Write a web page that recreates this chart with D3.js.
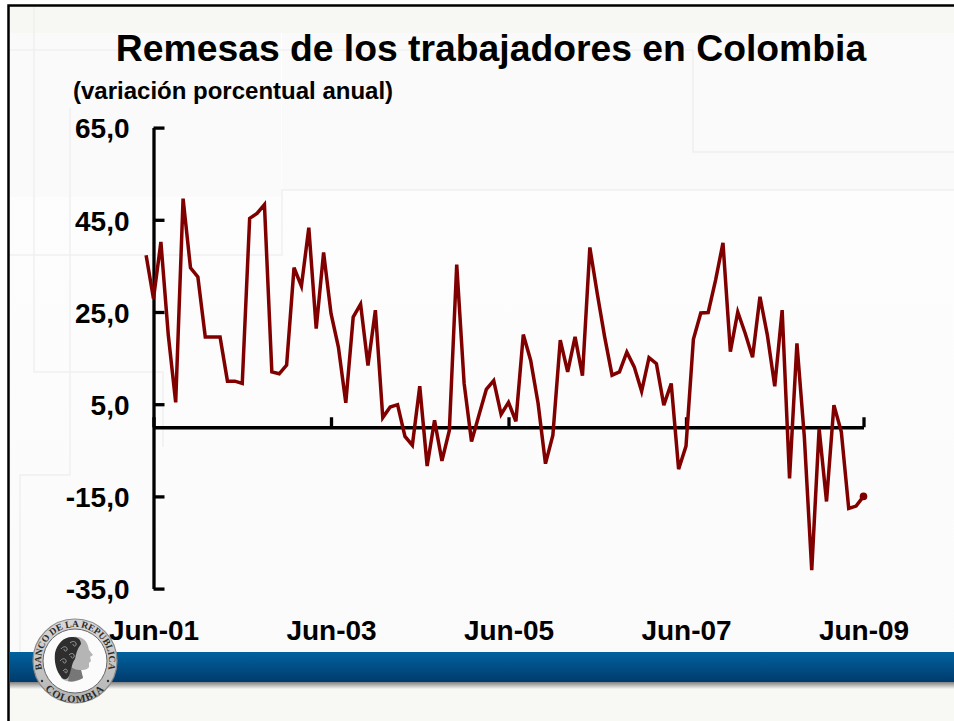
<!DOCTYPE html>
<html>
<head>
<meta charset="utf-8">
<title>Remesas de los trabajadores en Colombia</title>
<script src="https://cdnjs.cloudflare.com/ajax/libs/d3/7.8.5/d3.min.js"></script>
<style>
  html, body { margin: 0; padding: 0; background: #fff; }
  svg { display: block; }
  text { font-family: "Liberation Sans", Arial, sans-serif; font-weight: bold; fill: #000; }
  .axis path, .axis line { stroke: #000; stroke-width: 3.3px; }
  .axis text { font-size: 28px; }
</style>
</head>
<body>
<div id="chart"></div>
<script>
(function() {
  const titleText = "Remesas de los trabajadores en Colombia";
  const subtitleText = "(variación porcentual anual)";

  // y ticks, x tick positions (months since Jun-01) and their labels
  const yTicks = [65, 45, 25, 5, -15, -35];
  const xTicks = [0, 24, 48, 72, 96];
  const xLabels = ["Jun-01", "Jun-03", "Jun-05", "Jun-07", "Jun-09"];

  // months since Jun-01, the series starts one month before the axis
  const firstMonth = -1;
  const values = [
    37.3, 27.9, 40.2, 20.0, 5.4, 49.6, 34.6, 32.6, 19.6, 19.6, 19.6, 10.0, 10.0, 9.5,
    45.3, 46.4, 48.3, 12.0, 11.6, 13.5, 34.6, 30.6, 43.3, 21.4, 37.9, 24.7, 17.4, 5.3,
    23.9, 26.7, 13.4, 25.4, 2.1, 4.4, 4.9, -2.0, -3.9, 8.9, -8.4, 1.5, -7.3, -0.7,
    35.3, 9.5, -3.1, 2.6, 8.2, 10.1, 2.8, 5.4, 1.3, 20.1, 14.5, 5.2, -7.9, -1.7,
    18.9, 12.0, 19.6, 11.2, 39.0, 29.0, 19.6, 11.3, 12.0, 16.3, 13.1, 7.8, 15.1, 13.8,
    4.8, 9.5, -9.1, -4.1, 19.1, 24.8, 24.9, 31.9, 40.0, 16.4, 25.0, 20.4, 15.2, 28.3,
    20.0, 8.9, 25.4, -11.1, 18.2, -2.1, -31.0, -0.3, -16.1, 4.8, -1.0, -17.6, -17.1, -15.0
  ];

  const width = 954;
  const height = 721;

  const svg = d3.select("#chart")
    .append("svg")
      .attr("width", width)
      .attr("height", height);

  const defs = svg.append("defs");

  function vertical(id, from, to) {
    const grad = defs.append("linearGradient")
      .attr("id", id).attr("x1", 0).attr("x2", 0).attr("y1", 0).attr("y2", 1);
    grad.append("stop").attr("offset", "0%").attr("stop-color", from);
    grad.append("stop").attr("offset", "100%").attr("stop-color", to);
  }
  vertical("band", "#00629f", "#003b6c");
  vertical("shadow", "#808080", "#f6f6f3");
  vertical("page", "#fefefe", "#fafafa");
  vertical("ring", "#d8d8d8", "#b4b4b4");

  // slide background
  svg.append("rect").attr("x", 8).attr("y", 5).attr("width", width).attr("height", height)
    .attr("fill", "url(#page)");
  svg.append("rect").attr("x", 9).attr("y", 6).attr("width", width).attr("height", 27)
    .attr("fill", "#f7f8f3");
  svg.append("rect").attr("x", 9).attr("y", 33).attr("width", 272).attr("height", 164)
    .attr("fill", "#fafafa");
  svg.append("rect").attr("x", 282).attr("y", 33).attr("width", width).attr("height", 157)
    .attr("fill", "#fafafa");
  svg.append("rect").attr("x", 9).attr("y", 687).attr("width", width).attr("height", 34)
    .attr("fill", "#f8f8f5");

  // faint outlines in the template
  const faint = svg.append("g").attr("fill", "none").attr("stroke", "#f0f0f0").attr("stroke-width", 1.5);
  faint.append("path").attr("d", "M9,50H693");
  faint.append("path").attr("d", "M34,6V372H163V447");
  faint.append("path").attr("d", "M693,50V152H954");
  faint.append("path").attr("d", "M70,108V475H20V652");
  faint.append("path").attr("d", "M9,255H282V190H954");

  // slide frame
  svg.append("path").attr("d", "M8.5,721V5.5H954")
    .attr("fill", "none").attr("stroke", "#000").attr("stroke-width", 2.5);

  // footer band
  svg.append("rect").attr("x", 10).attr("y", 652).attr("width", width).attr("height", 30)
    .attr("fill", "url(#band)");
  svg.append("rect").attr("x", 10).attr("y", 682).attr("width", width).attr("height", 7)
    .attr("fill", "url(#shadow)");

  drawSeal(svg.append("g").attr("transform", "translate(75,661)"));

  // scales
  const y = d3.scaleLinear().domain([-35, 65]).range([588.6, 127.6]);
  const x = d3.scaleLinear().domain([0, 96]).range([153.5, 863.5]);

  const yAxis = d3.axisLeft(y)
    .tickValues(yTicks)
    .tickSize(-11)
    .tickSizeOuter(0)
    .tickPadding(24)
    .tickFormat(d => d.toFixed(1).replace(".", ","));

  svg.append("g")
    .attr("class", "axis")
    .attr("transform", `translate(${x(0)}, 0)`)
    .call(yAxis)
    .selectAll("text")
      .attr("dy", "0.37em");

  const xAxis = d3.axisBottom(x)
    .tickValues(xTicks)
    .tickSize(-10)
    .tickSizeOuter(0)
    .tickPadding(193)
    .tickFormat((d, i) => xLabels[i]);

  svg.append("g")
    .attr("class", "axis")
    .attr("transform", `translate(0, ${y(0)})`)
    .call(xAxis);

  // series
  const line = d3.line()
    .x((d, i) => x(i + firstMonth))
    .y(d => y(d));

  svg.append("path")
    .datum(values)
    .attr("d", line)
    .attr("fill", "none")
    .attr("stroke", "#800000")
    .attr("stroke-width", 3.5)
    .attr("stroke-linejoin", "miter");

  svg.append("circle")
    .attr("cx", x(values.length - 1 + firstMonth))
    .attr("cy", y(values[values.length - 1]))
    .attr("r", 3.8)
    .attr("fill", "#800000");

  svg.append("text")
    .attr("x", 491).attr("y", 61)
    .attr("text-anchor", "middle")
    .style("font-size", "37.3px")
    .text(titleText);

  svg.append("text")
    .attr("x", 73).attr("y", 99)
    .style("font-size", "24px")
    .text(subtitleText);

  // Banco de la Republica seal
  function drawSeal(g) {
    g.append("circle").attr("r", 42).attr("fill", "url(#ring)").attr("stroke", "#8a8a8a").attr("stroke-width", 1.2);
    g.append("circle").attr("r", 32).attr("fill", "#fbfbfb").attr("stroke", "#666").attr("stroke-width", 1);

    defs.append("path").attr("id", "sealTop").attr("d", "M-30.8,14.4A34,34 0 1 1 30.8,14.4");
    defs.append("path").attr("id", "sealBottom").attr("d", "M-35,21A40,40 0 0 0 35,21");

    const sealText = (href, label, size) => g.append("text")
      .style("font-family", "'Liberation Serif', serif")
      .style("font-size", size)
      .style("fill", "#2a2a2a")
      .append("textPath")
        .attr("href", href)
        .attr("startOffset", "50%")
        .attr("text-anchor", "middle")
        .text(label);
    sealText("#sealTop", "BANCO DE LA REPUBLICA", "9.5px");
    sealText("#sealBottom", "COLOMBIA", "10.5px").style("letter-spacing", "1px");

    g.append("circle").attr("cx", -33).attr("cy", 20).attr("r", 1.2).attr("fill", "#333");
    g.append("circle").attr("cx", 33).attr("cy", 20).attr("r", 1.2).attr("fill", "#333");

    // face and neck
    g.append("path")
      .attr("d", "M-2,-24C5,-25 11,-22 13,-15L14,-11L18,-6L15,-4L16,0L14,2L14,6C12,9 8,9 6,9L8,17C0,22 -8,22 -14,17L-8,-10Z")
      .attr("fill", "#b5b5b5");
    // shade under the jaw
    g.append("path")
      .attr("d", "M-4,6C0,9 4,9 6,9L8,17C2,20 -3,21 -7,20Z")
      .attr("fill", "#777");
    // hair
    g.append("path")
      .attr("d", "M-2,-24C-10,-25 -18,-18 -20,-8C-21,1 -19,10 -13,17C-9,20 -6,17 -5,12C-3,6 -3,2 0,-2C1,-7 2,-12 6,-17C6,-21 3,-24 -2,-24Z")
      .attr("fill", "#2e2e2e");
    // curls
    const curls = g.append("g").attr("fill", "none").attr("stroke", "#9a9a9a").attr("stroke-width", 1);
    curls.append("path").attr("d", "M-14,-12C-11,-16 -7,-14 -8,-11C-9,-9 -11,-10 -11,-12");
    curls.append("path").attr("d", "M-5,-18C-2,-21 2,-19 1,-16C0,-14 -2,-15 -2,-17");
    curls.append("path").attr("d", "M-15,0C-12,-4 -8,-2 -9,1C-10,3 -12,2 -12,0");
    curls.append("path").attr("d", "M-6,-6C-3,-9 0,-7 -1,-4C-2,-2 -4,-3 -4,-5");
    curls.append("path").attr("d", "M-12,10C-10,7 -7,8 -8,11C-9,13 -10,12 -10,10");
  }
})();
</script>
</body>
</html>
